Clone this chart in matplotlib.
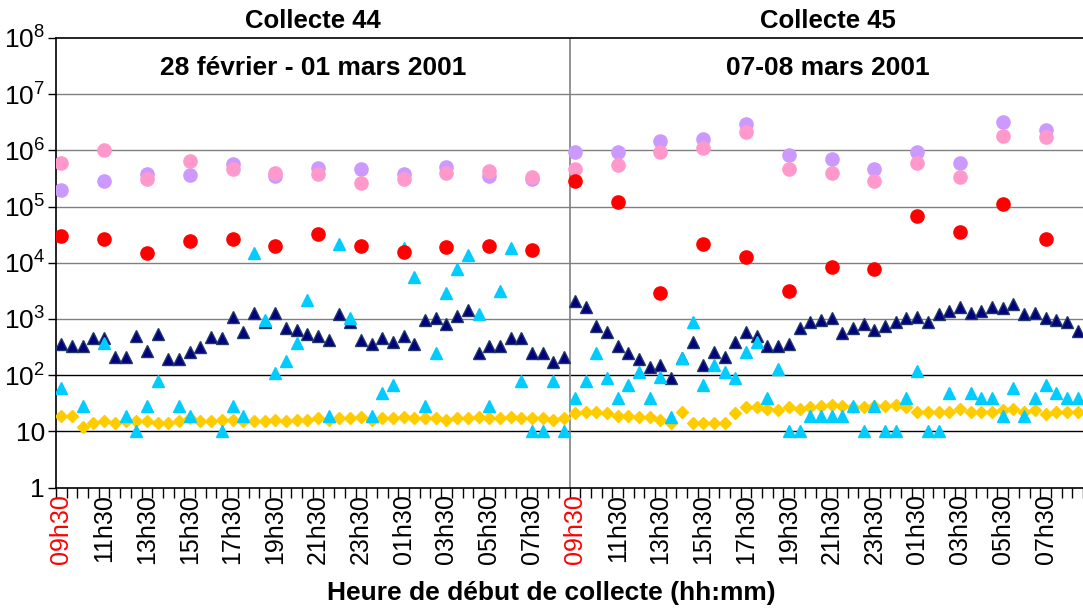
import numpy as np
import matplotlib
matplotlib.use('Agg')
import matplotlib.pyplot as plt

plt.rcParams['font.family'] = ['Liberation Sans', 'DejaVu Sans']
plt.rcParams['mathtext.fontset'] = 'custom'
plt.rcParams['mathtext.rm'] = 'Liberation Sans'

nan = np.nan

# half-hour slots, 48 per collecte (09h30 -> 09h00 next day)
heures = ['09h30', '11h30', '13h30', '15h30', '17h30', '19h30',
          '21h30', '23h30', '01h30', '03h30', '05h30', '07h30']

# series measured every half hour
bleu_fonce = [359, 335, 335, 457, 457, 209, 209, 501, 265, 537, 191, 191,
              262, 313, 480, 455, 1100, 575, 1300, 890, 1300, 700, 630, 540,
              500, 425, 1200, 890, 425, 360, 450, 385, 500, 360, 960, 1030,
              810, 1120, 1440, 245, 330, 330, 453, 453, 245, 245, 173, 209,
              2060, 1660, 750, 575, 335, 245, 191, 142, 151, 88, 200, 395,
              151, 262, 213, 395, 575, 505, 330, 330, 360, 680, 890, 960,
              1040, 570, 690, 810, 630, 750, 890, 1050, 1100, 870, 1200, 1400,
              1660, 1290, 1400, 1660, 1550, 1830, 1200, 1290, 1030, 960, 870, 620]

bleu_clair = [58, nan, 28, nan, 370, nan, 19, 10, 28, 80, nan, 28,
              19, nan, nan, 10, 28, 19, 14800, 950, 108, 180, 380, 2150,
              nan, 19, 22000, 1050, nan, 19, 49, 67, 18000, 5600, 28, 245,
              2950, 7600, 13500, 1200, 28, 3170, 18000, 80, 10, 10, 80, 10,
              39, 80, 245, 88, 39, 67, 115, 39, 94, 18, 200, 890,
              67, 151, 115, 88, 262, 395, 39, 127, 10, 10, 19, 19,
              19, 19, 28, 10, 28, 10, 10, 39, 118, 10, 10, 49,
              nan, 49, 39, 39, 19, 58, 19, 39, 67, 49, 39, 39]

jaune = [19, 19, 12, 14, 15, 14, 15, 15, 15, 14, 14, 15,
         17, 15, 15, 16, 16, 15, 15, 15, 16, 15, 16, 16,
         17, 16, 17, 17, 18, 16, 17, 17, 18, 17, 17, 17,
         16, 17, 17, 18, 17, 17, 18, 17, 17, 17, 16, 17,
         21, 22, 22, 21, 19, 19, 18, 18, 16, 14, 22, 14,
         14, 14, 14, 21, 27, 27, 25, 24, 27, 25, 27, 28,
         30, 28, 27, 27, 28, 28, 30, 27, 22, 22, 22, 22,
         25, 22, 22, 22, 24, 25, 22, 24, 20, 22, 22, 22]

# series measured every two hours
violet = [2.0e5, 2.8e5, 3.8e5, 3.6e5, 5.7e5, 3.5e5, 4.8e5, 4.6e5, 3.8e5, 5.0e5, 3.5e5, 3.1e5,
          9.3e5, 9.3e5, 1.45e6, 1.6e6, 2.9e6, 8.3e5, 6.9e5, 4.6e5, 9.3e5, 5.9e5, 3.2e6, 2.3e6]
rose = [5.9e5, 1.0e6, 3.1e5, 6.4e5, 4.6e5, 4.0e5, 3.8e5, 2.6e5, 3.1e5, 4.0e5, 4.3e5, 3.4e5,
        4.6e5, 5.5e5, 9.3e5, 1.1e6, 2.1e6, 4.6e5, 4.0e5, 2.8e5, 5.9e5, 3.4e5, 1.8e6, 1.7e6]
rouge = [3.0e4, 2.7e4, 1.5e4, 2.4e4, 2.6e4, 2.0e4, 3.2e4, 2.0e4, 1.55e4, 1.9e4, 2.0e4, 1.7e4,
         2.8e5, 1.2e5, 2.9e3, 2.2e4, 1.26e4, 3.2e3, 8.4e3, 7.8e3, 6.7e4, 3.5e4, 1.1e5, 2.6e4]

x30 = np.arange(len(bleu_fonce))
x2h = np.arange(0, len(bleu_fonce), 4)

fig = plt.figure(figsize=(10.83, 6.10), dpi=100)
ax = fig.add_axes([56 / 1083, 122.5 / 610, 1 - 56 / 1083, 449.5 / 610])
ax.set_yscale('log')
ax.set_ylim(1, 1e8)
ax.set_xlim(-0.5, 95.5)

for d in range(1, 8):
    c = '#000000' if d <= 2 else '#808080'
    ax.axhline(10 ** d, color=c, lw=1.0, zorder=1)
ax.axvline(47.5, color='#808080', lw=1.2, zorder=1)

ax.plot(x30, bleu_fonce, ls='none', marker='^', ms=9, mfc='#000080', mec='#1F3864', mew=1, zorder=3)
ax.plot(x30, jaune, ls='none', marker='D', ms=6.2, mfc='#FFCC00', mec='#FFCC00', zorder=3)
ax.plot(x30, bleu_clair, ls='none', marker='^', ms=9, mfc='#00CCFF', mec='#00CCFF', zorder=4)
ax.plot(x2h, violet, ls='none', marker='o', ms=9.5, mfc='#CC99FF', mec='#CC99FF', zorder=5)
ax.plot(x2h, rose, ls='none', marker='o', ms=9.5, mfc='#FF99CC', mec='#FF99CC', zorder=6)
ax.plot(x2h, rouge, ls='none', marker='o', ms=9.5, mfc='#FF0000', mec='#FF0000', zorder=7)

# axes frame
ax.spines['right'].set_visible(False)
for s in ['left', 'top', 'bottom']:
    ax.spines[s].set_color('black')
    ax.spines[s].set_linewidth(1.2)

ylabels = ['1', '10'] + [r'$\mathregular{10^{%d}}$' % d for d in range(2, 9)]
ax.set_yticks([10 ** d for d in range(0, 9)])
ax.set_yticklabels(ylabels, fontsize=19)
ax.yaxis.set_minor_locator(matplotlib.ticker.NullLocator())
ax.tick_params(axis='y', length=6, width=1, pad=2)

ax.set_xticks(np.arange(-0.5, 96, 1))
ax.set_xticklabels([])
ax.tick_params(axis='x', which='major', length=7, width=1)
ax.set_xticks(x2h, minor=True)
ax.set_xticklabels(heures * 2, minor=True, rotation=90, fontsize=18)
ax.tick_params(axis='x', which='minor', length=0, pad=5)
for i, lab in enumerate(ax.get_xticklabels(minor=True)):
    if i % 12 == 0:
        lab.set_color('red')

fig.text(313 / 1083, 1 - 21 / 610, 'Collecte 44', ha='center', va='center', fontsize=18.5, fontweight='bold')
fig.text(828 / 1083, 1 - 21 / 610, 'Collecte 45', ha='center', va='center', fontsize=18.5, fontweight='bold')
fig.text(313 / 1083, 1 - 68 / 610, '28 février - 01 mars 2001', ha='center', va='center', fontsize=19, fontweight='bold')
fig.text(828 / 1083, 1 - 68 / 610, '07-08 mars 2001', ha='center', va='center', fontsize=19, fontweight='bold')
fig.text(551 / 1083, 1 - 593 / 610, 'Heure de début de collecte (hh:mm)', ha='center', va='center', fontsize=19, fontweight='bold')

fig.savefig('out.png', dpi=100)
